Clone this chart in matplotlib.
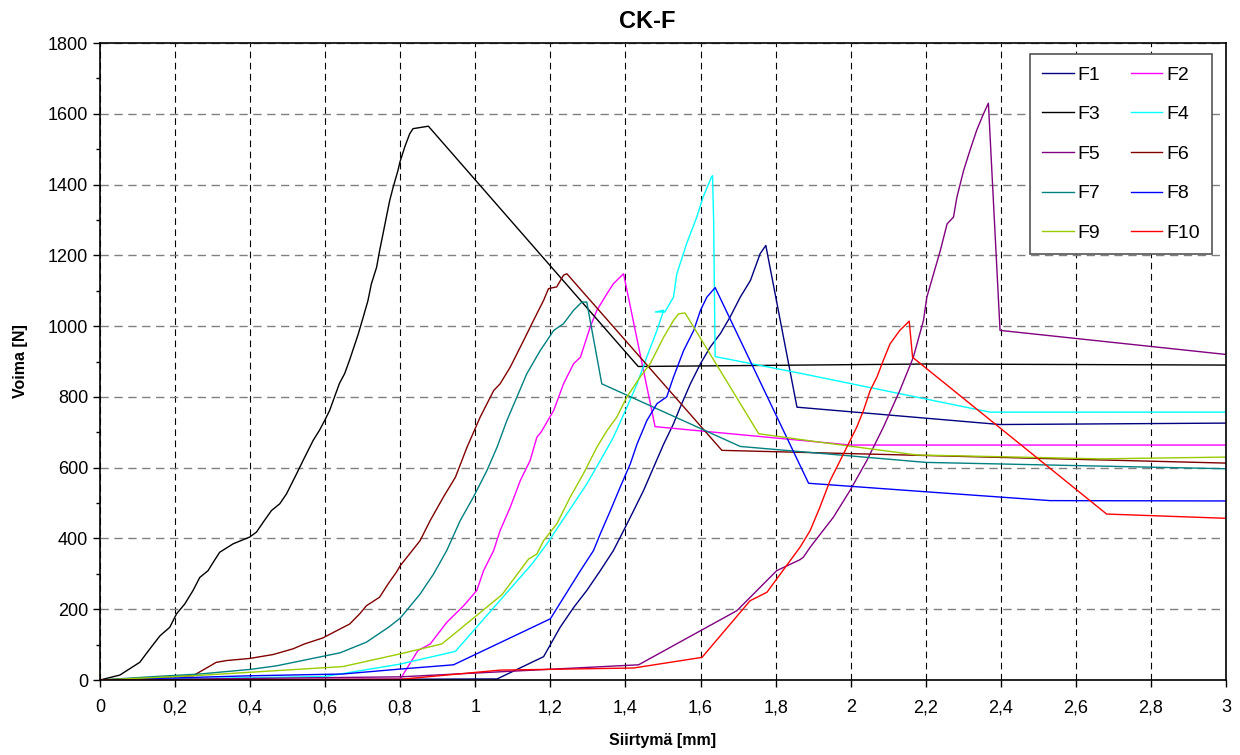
import matplotlib
matplotlib.use("Agg")
import matplotlib.pyplot as plt
from matplotlib.ticker import MultipleLocator, FuncFormatter

plt.rcParams['font.family'] = ['Liberation Sans', 'DejaVu Sans']

# values (siirtymä mm, voima N)
f1_x = [0, 1.058, 1.182, 1.226, 1.262, 1.297, 1.333, 1.368, 1.395, 1.422, 1.448, 1.475, 1.502,
        1.528, 1.546, 1.573, 1.6, 1.626, 1.653, 1.679, 1.706, 1.733, 1.759, 1.774, 1.857, 2.398, 3.0]
f1_y = [0, 3, 66, 149, 205, 253, 309, 366, 422, 479, 535, 601, 667,
        724, 771, 837, 894, 941, 979, 1026, 1082, 1129, 1205, 1228, 771, 722, 726]

f2_x = [0, 0.8, 0.847, 0.88, 0.924, 0.969, 1.004, 1.022, 1.049, 1.066, 1.093, 1.12, 1.146, 1.164,
        1.175, 1.209, 1.235, 1.262, 1.28, 1.306, 1.324, 1.351, 1.368, 1.395, 1.479, 2.0, 3.0]
f2_y = [0, 2, 83, 102, 163, 210, 253, 309, 366, 422, 488, 564, 620, 686,
        700, 762, 837, 894, 912, 997, 1045, 1092, 1120, 1148, 716, 664, 664]

f3_x = [0, 0.053, 0.106, 0.133, 0.16, 0.186, 0.204, 0.226, 0.248, 0.266, 0.288, 0.302, 0.319,
        0.355, 0.399, 0.417, 0.435, 0.457, 0.479, 0.497, 0.515, 0.524, 0.541, 0.559, 0.568,
        0.585, 0.599, 0.612, 0.625, 0.638, 0.652, 0.665, 0.688, 0.701, 0.714, 0.723, 0.737,
        0.745, 0.754, 0.763, 0.772, 0.781, 0.794, 0.799, 0.812, 0.825, 0.834, 0.875,
        1.434, 2.2, 3.0]
f3_y = [0, 14, 50, 88, 125, 149, 187, 215, 253, 290, 309, 333, 361,
        385, 404, 418, 446, 479, 498, 526, 564, 583, 620, 658, 677,
        706, 734, 762, 800, 838, 866, 904, 977, 1024, 1072, 1119, 1166,
        1213, 1260, 1308, 1355, 1392, 1440, 1463, 1506, 1543, 1558, 1565,
        886, 893, 890]

f4_x = [0, 0.6, 0.8, 0.947, 1.151, 1.191, 1.226, 1.262, 1.297, 1.333, 1.368, 1.404, 1.431,
        1.457, 1.484, 1.502, 1.48, 1.505, 1.528, 1.537, 1.563, 1.59, 1.607, 1.629, 1.632, 1.635,
        1.639, 1.865, 2.371, 3.0]
f4_y = [0, 10, 45, 81, 328, 385, 441, 498, 554, 620, 686, 771, 837,
        913, 988, 1045, 1040, 1040, 1082, 1148, 1233, 1308, 1365, 1421, 1425, 1300,
        914, 867, 757, 757]

f5_x = [0, 0.8, 1.435, 1.697, 1.803, 1.865, 1.874, 1.892, 1.954, 1.998, 2.043, 2.087, 2.131,
        2.167, 2.194, 2.203, 2.221, 2.239, 2.257, 2.274, 2.283, 2.301, 2.318, 2.336, 2.354,
        2.367, 2.398, 3.0]
f5_y = [0, 9, 43, 196, 309, 340, 347, 375, 460, 535, 620, 714, 818,
        912, 1016, 1082, 1148, 1214, 1289, 1308, 1364, 1440, 1497, 1554, 1600,
        1630, 988, 920]

f6_x = [0, 0.248, 0.31, 0.337, 0.399, 0.461, 0.514, 0.545, 0.594, 0.639, 0.665, 0.692, 0.71,
        0.745, 0.768, 0.79, 0.8, 0.853, 0.88, 0.915, 0.947, 0.978, 1.013, 1.049, 1.066,
        1.093, 1.129, 1.155, 1.182, 1.195, 1.217, 1.235, 1.244, 1.657, 3.0]
f6_y = [0, 12, 50, 55, 61, 72, 88, 102, 119, 144, 158, 187, 210,
        234, 272, 305, 323, 394, 451, 517, 573, 658, 743, 818, 837,
        884, 960, 1016, 1073, 1106, 1111, 1144, 1148, 649, 613]

f7_x = [0, 0.133, 0.266, 0.4, 0.47, 0.64, 0.71, 0.77, 0.8, 0.853, 0.889, 0.924, 0.96, 0.995,
        1.031, 1.058, 1.084, 1.111, 1.137, 1.173, 1.209, 1.235, 1.262, 1.284, 1.297, 1.337,
        1.706, 2.2, 3.0]
f7_y = [0, 9, 17, 30, 40, 77, 107, 150, 175, 243, 300, 366, 451, 517,
        592, 658, 733, 800, 865, 931, 988, 1007, 1045, 1068, 1068, 837,
        660, 615, 597]

f8_x = [0, 0.4, 0.647, 0.8, 0.942, 1.2, 1.28, 1.315, 1.333, 1.36, 1.386, 1.413, 1.431, 1.457,
        1.484, 1.51, 1.528, 1.555, 1.582, 1.6, 1.617, 1.639, 1.888, 2.2, 2.531, 3.0]
f8_y = [0, 12, 17, 31, 43, 173, 309, 366, 413, 479, 545, 611, 667, 733,
        781, 800, 856, 931, 988, 1045, 1082, 1109, 556, 532, 507, 506]

f9_x = [0, 0.248, 0.647, 0.8, 0.911, 1.071, 1.142, 1.164, 1.182, 1.217, 1.253, 1.288, 1.324,
        1.351, 1.377, 1.404, 1.439, 1.466, 1.502, 1.528, 1.542, 1.559, 1.755, 1.919, 2.176,
        2.664, 3.0]
f9_y = [0, 12, 38, 74, 102, 241, 342, 356, 394, 441, 517, 583, 658,
        705, 743, 800, 856, 894, 969, 1016, 1035, 1037, 696, 672, 636,
        625, 630]

f10_x = [0, 0.8, 1.066, 1.422, 1.604, 1.732, 1.777, 1.865, 1.892, 1.918, 1.945, 1.972, 1.994,
         2.016, 2.034, 2.052, 2.07, 2.087, 2.105, 2.131, 2.156, 2.165, 2.682, 3.0]
f10_y = [0, 2, 28, 34, 64, 224, 248, 375, 422, 488, 563, 620, 667,
         714, 761, 818, 856, 903, 950, 988, 1014, 912, 469, 457]

names = ["F1", "F2", "F3", "F4", "F5", "F6", "F7", "F8", "F9", "F10"]
xs = [f1_x, f2_x, f3_x, f4_x, f5_x, f6_x, f7_x, f8_x, f9_x, f10_x]
ys = [f1_y, f2_y, f3_y, f4_y, f5_y, f6_y, f7_y, f8_y, f9_y, f10_y]
colors = ["#000080", "#FF00FF", "#000000", "#00FFFF", "#800080",
          "#800000", "#008080", "#0000FF", "#99CC00", "#FF0000"]

fig = plt.figure(figsize=(12.4, 7.55), dpi=100)
ax = fig.add_axes([0.0806, 0.0993, 0.9081, 0.8437])

lines = []
for x, y, c, n in zip(xs, ys, colors, names):
    ln, = ax.plot(x, y, color=c, lw=1.0, label=n)
    lines.append(ln)

ax.set_xlim(0, 3)
ax.set_ylim(0, 1800)
ax.xaxis.set_major_locator(MultipleLocator(0.2))
ax.yaxis.set_major_locator(MultipleLocator(200))
ax.yaxis.set_minor_locator(MultipleLocator(100))
ax.xaxis.set_major_formatter(FuncFormatter(lambda v, p: ("%g" % round(v, 1)).replace(".", ",")))
ax.tick_params(direction="out", length=5, width=1, labelsize=13)
ax.tick_params(axis="x", pad=9)
ax.tick_params(which="minor", direction="out", length=3, width=1)
for s in ax.spines.values():
    s.set_linewidth(1.2)

ax.grid(axis="x", color="black", ls=(0, (6, 4)), lw=0.8)
ax.grid(axis="y", color="#808080", ls=(0, (6, 4)), lw=1.0)
ax.set_axisbelow(True)

fig.text(647 / 1240, 1 - 21 / 755, "CK-F", fontsize=17, fontweight="bold",
         ha="center", va="center")
ax.set_xlabel("Siirtymä [mm]", fontsize=11.5, fontweight="bold", labelpad=12)
ax.set_ylabel("Voima [N]", fontsize=11.5, fontweight="bold", labelpad=14)

# rows F1 F2 / F3 F4 ... -> column-first order for ncol=2
order = [0, 2, 4, 6, 8, 1, 3, 5, 7, 9]
leg = ax.legend([lines[i] for i in order], [names[i] for i in order], ncol=2,
                loc="upper right", bbox_to_anchor=(0.9876, 0.9827), borderaxespad=0,
                fontsize=14, frameon=True, fancybox=False, edgecolor="#555555",
                framealpha=1, handlelength=1.6, handletextpad=0.2, columnspacing=1.6,
                labelspacing=1.13, borderpad=0.62)
leg.get_frame().set_linewidth(1.2)

fig.savefig("out.png", dpi=100)
